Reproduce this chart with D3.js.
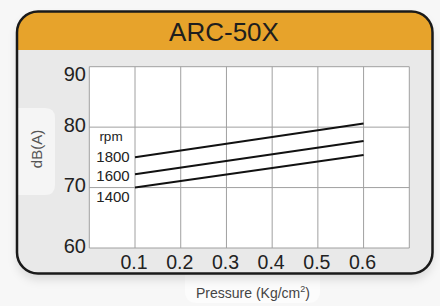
<!DOCTYPE html>
<html><head><meta charset="utf-8">
<script src="https://cdn.jsdelivr.net/npm/d3@7"></script>
<style>html,body{margin:0;padding:0;background:#f7f7f7;}svg{display:block;}</style>
</head><body>
<script>
const title = "ARC-50X";
const xTicks = [0.1, 0.2, 0.3, 0.4, 0.5, 0.6];
const xGrid = [0, 0.1, 0.2, 0.3, 0.4, 0.5, 0.6, 0.7];
const yTicks = [60, 70, 80, 90];
const pressure = [0.1, 0.6];
const rpm1800 = [75.0, 80.6];
const rpm1600 = [72.2, 77.7];
const rpm1400 = [70.0, 75.4];
const seriesNames = ["1800", "1600", "1400"];
const legendTitle = "rpm";
const yLabel = "dB(A)";
const xLabel = "Pressure (Kg/cm";

const W = 440, H = 306;
const svg = d3.select("body").append("svg").attr("width", W).attr("height", H);
const defs = svg.append("defs");
const f = defs.append("filter").attr("id","sh").attr("x","-10%").attr("y","-10%").attr("width","120%").attr("height","130%");
f.append("feDropShadow").attr("dx",0).attr("dy",6).attr("stdDeviation",5).attr("flood-color","#000").attr("flood-opacity",0.12);

const fx = 17, fy = 11.5, fw = 415.5, fh = 262, r = 21;
// pressure tab behind frame
svg.append("path")
  .attr("d", `M185,265 L320,265 L320,291 Q320,303 308,303 L197,303 Q185,303 185,291 Z`)
  .attr("fill", "#fcfcfc");
// frame body
svg.append("rect").attr("x", fx).attr("y", fy).attr("width", fw).attr("height", fh)
  .attr("rx", r).attr("fill", "#e9e9e9").attr("filter","url(#sh)");
// header
const clip = defs.append("clipPath").attr("id","fc");
clip.append("rect").attr("x", fx).attr("y", fy).attr("width", fw).attr("height", fh).attr("rx", r);
svg.append("rect").attr("x", fx).attr("y", fy).attr("width", fw).attr("height", 50 - fy)
  .attr("fill", "#e7a32b").attr("clip-path","url(#fc)");
// y-label tab
svg.append("path")
  .attr("d", `M${fx},108 L45,108 Q55,108 55,118 L55,185 Q55,195 45,195 L${fx},195 Z`)
  .attr("fill", "#f5f5f5").attr("clip-path","url(#fc)");
// frame outline
svg.append("rect").attr("x", fx).attr("y", fy).attr("width", fw).attr("height", fh)
  .attr("rx", r).attr("fill", "none").attr("stroke", "#1a1a1a").attr("stroke-width", 2.5);

svg.append("text").attr("x", 224).attr("y", 41).attr("text-anchor","middle")
  .attr("font-family","Liberation Sans, Arial, sans-serif").attr("font-size", 26)
  .attr("fill","#1e1e1e").text(title);

const x = d3.scaleLinear().domain([0, 0.7]).range([89.3, 409.3]);
const y = d3.scaleLinear().domain([60, 90]).range([248, 66.7]);

svg.append("rect").attr("x", x(0)).attr("y", y(90)).attr("width", x(0.7)-x(0)).attr("height", y(60)-y(90))
  .attr("fill", "#fff");
const g = svg.append("g");
g.selectAll("line.v").data(xGrid).join("line").attr("class","v")
  .attr("x1", d=>x(d)).attr("x2", d=>x(d)).attr("y1", y(90)).attr("y2", y(60))
  .attr("stroke", "#a0a0a0").attr("stroke-width", 1);
g.selectAll("line.h").data(yTicks).join("line").attr("class","h")
  .attr("x1", x(0)).attr("x2", x(0.7)).attr("y1", d=>y(d)).attr("y2", d=>y(d))
  .attr("stroke", "#a0a0a0").attr("stroke-width", 1);

// y tick labels
svg.selectAll("text.yt").data(yTicks).join("text").attr("class","yt")
  .attr("x", 86).attr("y", d => Math.max(y(d) + 4.5, y(90) + 14))
  .attr("text-anchor","end").attr("font-family","Liberation Sans, Arial, sans-serif")
  .attr("font-size", 20).attr("fill","#222").text(d => d);
// x tick labels
svg.selectAll("text.xt").data(xTicks).join("text").attr("class","xt")
  .attr("x", d => x(d) - 1).attr("y", 268.5)
  .attr("text-anchor","middle").attr("font-family","Liberation Sans, Arial, sans-serif")
  .attr("font-size", 19.5).attr("fill","#222").text(d => d.toFixed(1));

// lines
const series = [rpm1800, rpm1600, rpm1400];
const line = d3.line().x((d,i)=>x(pressure[i])).y(d=>y(d));
svg.selectAll("path.s").data(series).join("path").attr("class","s")
  .attr("d", d => line(d)).attr("fill","none").attr("stroke","#111").attr("stroke-width", 2);

// legend labels
const lf = "Liberation Sans, Arial, sans-serif";
svg.append("text").attr("x", 111).attr("y", 140.5).attr("text-anchor","middle")
  .attr("font-family", lf).attr("font-size", 13.5).attr("fill","#222").text(legendTitle);
svg.selectAll("text.lg").data(seriesNames).join("text").attr("class","lg")
  .attr("x", 113).attr("y", (d,i) => [162, 181, 201.5][i])
  .attr("text-anchor","middle").attr("font-family", lf).attr("font-size", 15)
  .attr("fill","#222").text(d => d);

// y label
svg.append("text").attr("transform","translate(42,149) rotate(-90)")
  .attr("text-anchor","middle").attr("font-family", lf).attr("font-size", 15)
  .attr("fill","#555").text(yLabel);
// x label
const xl = svg.append("text").attr("x", 253).attr("y", 297.5).attr("text-anchor","middle")
  .attr("font-family", lf).attr("font-size", 14).attr("fill","#444");
xl.append("tspan").text(xLabel);
xl.append("tspan").attr("font-size", 9).attr("dy", -6).text("2");
xl.append("tspan").attr("dy", 6).text(")");
</script>
</body></html>
